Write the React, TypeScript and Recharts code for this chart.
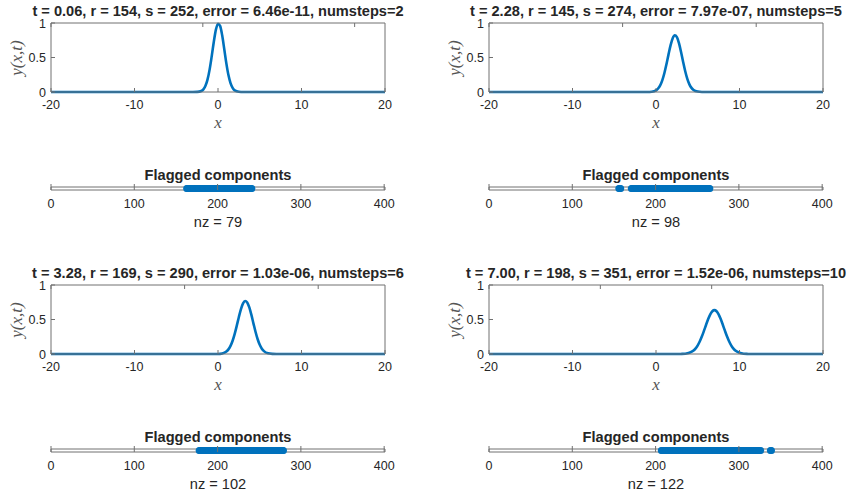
import React from "react";
import { LineChart, Line, XAxis, YAxis, ScatterChart, Scatter } from "recharts";

// subplot titles
const titles = [
  "t = 0.06, r = 154, s = 252, error = 6.46e-11, numsteps=2",
  "t = 2.28, r = 145, s = 274, error = 7.97e-07, numsteps=5",
  "t = 3.28, r = 169, s = 290, error = 1.03e-06, numsteps=6",
  "t = 7.00, r = 198, s = 351, error = 1.52e-06, numsteps=10",
];

const xTicks = [-20, -10, 0, 10, 20];
const yTicks = [0, 0.5, 1];
const spyTicks = [0, 100, 200, 300, 400];

// y(x,t) curves, estimated from the plots
const x1 = [-20, -3, -2.5, -2, -1.75, -1.5, -1.25, -1, -0.75, -0.5, -0.25, 0, 0.25, 0.5, 0.75, 1, 1.25, 1.5, 1.75, 2, 2.5, 3, 20];
const y1 = [0, 0, 0.002, 0.015, 0.039, 0.09, 0.183, 0.328, 0.52, 0.729, 0.904, 0.99, 0.959, 0.821, 0.621, 0.415, 0.245, 0.128, 0.059, 0.024, 0.003, 0, 0];

const x2 = [-20, -1, -0.5, 0, 0.25, 0.5, 0.75, 1, 1.25, 1.5, 1.75, 2, 2.25, 2.5, 2.75, 3, 3.25, 3.5, 3.75, 4, 4.25, 4.5, 5, 5.5, 6, 20];
const y2 = [0, 0.001, 0.004, 0.024, 0.051, 0.096, 0.169, 0.272, 0.401, 0.545, 0.68, 0.78, 0.822, 0.796, 0.708, 0.579, 0.435, 0.301, 0.191, 0.111, 0.06, 0.029, 0.006, 0.001, 0, 0];

const x3 = [-20, 0, 0.5, 1, 1.25, 1.5, 1.75, 2, 2.25, 2.5, 2.75, 3, 3.25, 3.5, 3.75, 4, 4.25, 4.5, 4.75, 5, 5.25, 5.5, 6, 6.5, 7, 20];
const y3 = [0, 0.001, 0.008, 0.035, 0.067, 0.118, 0.192, 0.292, 0.411, 0.537, 0.652, 0.735, 0.769, 0.748, 0.675, 0.566, 0.441, 0.319, 0.214, 0.134, 0.077, 0.042, 0.01, 0.002, 0, 0];

const x4 = [-20, 2.5, 3, 3.5, 4, 4.5, 4.75, 5, 5.25, 5.5, 5.75, 6, 6.25, 6.5, 6.75, 7, 7.25, 7.5, 7.75, 8, 8.25, 8.5, 8.75, 9, 9.25, 9.5, 10, 10.5, 11, 11.5, 20];
const y4 = [0, 0, 0.001, 0.004, 0.017, 0.051, 0.082, 0.126, 0.184, 0.256, 0.338, 0.424, 0.507, 0.575, 0.62, 0.636, 0.62, 0.575, 0.507, 0.424, 0.338, 0.256, 0.184, 0.126, 0.082, 0.051, 0.017, 0.004, 0.001, 0, 0];

// flagged component index ranges [first, last] for each spy plot
const flagged1 = [[163, 241]];
const flagged2 = [[156, 158], [171, 265]];
const flagged3 = [[178, 279]];
const flagged4 = [[207, 326], [338, 339]];

const nzCounts = [79, 98, 102, 122];

const FONT = '"Liberation Sans", Arial, Helvetica, sans-serif';
const SERIF = '"Liberation Serif", "DejaVu Serif", serif';
const BLUE = "#0072BD";
const TEXT = "#262626";
const BOX = "#707070";

const PLOT_W = 334;
const PLOT_H = 69;
const SPY_H = 3;

const toRows = (xs: number[], ys: number[]) => xs.map((x, i) => ({ x, y: ys[i] }));
const toPoints = (ranges: number[][]) => {
  const pts: { x: number; y: number }[] = [];
  ranges.forEach(([a, b]) => {
    for (let i = a; i <= b; i++) pts.push({ x: i, y: 1 });
  });
  return pts;
};

// text centred on (cx, cy), box hugging the glyphs
const Txt = ({ cx, cy, text, size, bold, italic, serif, color, rotate }: any) => (
  <div
    style={{
      position: "absolute",
      left: cx,
      top: cy,
      lineHeight: 0.75,
      fontFamily: serif ? SERIF : FONT,
      fontSize: size,
      fontWeight: bold ? "bold" : "normal",
      fontStyle: italic ? "italic" : "normal",
      color: color || TEXT,
      whiteSpace: "nowrap",
      transform: `translate(-50%, -50%)${rotate ? " rotate(-90deg)" : ""}`,
    }}
  >
    {text}
  </div>
);

const bottomTick = (len: number, labelDy: number) => (p: any) => (
  <g>
    <line x1={p.x} y1={p.y} x2={p.x} y2={p.y - len} stroke={BOX} />
    <text x={p.x} y={p.y + labelDy} textAnchor="middle" fontSize={12.5} fontFamily={FONT} fill={TEXT}>
      {p.payload.value}
    </text>
  </g>
);
const topTick = (len: number) => (p: any) => <line x1={p.x} y1={p.y} x2={p.x} y2={p.y + len} stroke={BOX} />;
const leftTick = (p: any) => (
  <g>
    <line x1={p.x} y1={p.y} x2={p.x + 4} y2={p.y} stroke={BOX} />
    <text x={p.x - 5} y={p.y + 4.6} textAnchor="end" fontSize={12.5} fontFamily={FONT} fill={TEXT}>
      {p.payload.value}
    </text>
  </g>
);
const rightTick = (p: any) => <line x1={p.x} y1={p.y} x2={p.x - 4} y2={p.y} stroke={BOX} />;

// axes get a 1px band so recharts still draws them; margins absorb it
const common = { tickLine: false, tickSize: 0, tickMargin: 0, interval: 0 as const, axisLine: { stroke: BOX } };

function LinePanel({ left, top, rows, title }: { left: number; top: number; rows: any[]; title: string }) {
  return (
    <>
      <div style={{ position: "absolute", left: left - 51, top: top - 23 }}>
        <LineChart width={430} height={135} data={rows} margin={{ top: 22, left: 50, right: 430 - 51 - PLOT_W - 1, bottom: 135 - 23 - PLOT_H - 1 }}>
          <XAxis dataKey="x" type="number" domain={[-20, 20]} ticks={xTicks} height={1} {...common} tick={bottomTick(4, 17.3)} />
          <XAxis xAxisId="top" orientation="top" type="number" domain={[-20, 20]} ticks={xTicks} height={1} {...common} tick={topTick(4)} />
          <YAxis type="number" domain={[0, 1]} ticks={yTicks} width={1} {...common} tick={leftTick} />
          <YAxis yAxisId="right" orientation="right" type="number" domain={[0, 1]} ticks={yTicks} width={1} {...common} tick={rightTick} />
          <Line dataKey="y" type="monotone" stroke={BLUE} strokeWidth={2.6} dot={false} isAnimationActive={false} />
        </LineChart>
      </div>
      <Txt cx={left + PLOT_W / 2} cy={top - 12} text={title} size={14.6} bold />
      <Txt cx={left + PLOT_W / 2} cy={top + PLOT_H + 30.5} text="x" size={17} italic serif color="#555" />
      <Txt cx={left - 34} cy={top + PLOT_H / 2} text="y(x,t)" size={17} italic serif color="#555" rotate />
    </>
  );
}

function SpyPanel({ left, top, points, nz }: { left: number; top: number; points: any[]; nz: number }) {
  return (
    <>
      <div style={{ position: "absolute", left: left - 51, top: top - 27 }}>
        <ScatterChart width={430} height={60} margin={{ top: 26, left: 50, right: 430 - 51 - PLOT_W - 1, bottom: 60 - 27 - SPY_H - 1 }}>
          <XAxis dataKey="x" type="number" domain={[0, 401]} ticks={spyTicks} height={1} {...common} tick={bottomTick(6, 17.5)} />
          <XAxis xAxisId="top" orientation="top" type="number" domain={[0, 401]} ticks={spyTicks} height={1} {...common} tick={topTick(6)} />
          <YAxis dataKey="y" type="number" domain={[0, 2]} width={1} {...common} tick={false} />
          <YAxis yAxisId="right" orientation="right" type="number" domain={[0, 2]} width={1} {...common} tick={false} />
          <Scatter
            data={points}
            fill={BLUE}
            isAnimationActive={false}
            shape={(p: any) => <circle cx={p.cx} cy={p.cy} r={3.6} fill={BLUE} />}
          />
        </ScatterChart>
      </div>
      <Txt cx={left + PLOT_W / 2} cy={top - 12} text="Flagged components" size={14.6} bold />
      <Txt cx={left + PLOT_W / 2} cy={top + SPY_H + 32} text={`nz = ${nz}`} size={14.6} />
    </>
  );
}

export default function App() {
  const colLeft = [51, 489];
  const lineTop = [23, 285];
  const spyTop = [187, 449];
  const curves = [toRows(x1, y1), toRows(x2, y2), toRows(x3, y3), toRows(x4, y4)];
  const spies = [toPoints(flagged1), toPoints(flagged2), toPoints(flagged3), toPoints(flagged4)];
  return (
    <div style={{ position: "absolute", left: 0, top: 0, width: 853, height: 500, background: "#fff", overflow: "hidden" }}>
      {[0, 1, 2, 3].map((i) => (
        <React.Fragment key={i}>
          <LinePanel left={colLeft[i % 2]} top={lineTop[Math.floor(i / 2)]} rows={curves[i]} title={titles[i]} />
          <SpyPanel left={colLeft[i % 2]} top={spyTop[Math.floor(i / 2)]} points={spies[i]} nz={nzCounts[i]} />
        </React.Fragment>
      ))}
    </div>
  );
}
